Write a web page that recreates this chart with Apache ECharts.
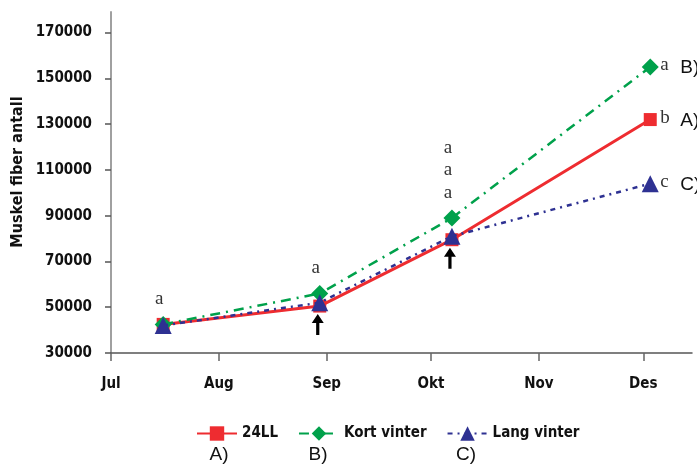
<!DOCTYPE html>
<html>
<head>
<meta charset="utf-8">
<script src="https://cdn.jsdelivr.net/npm/echarts@6/dist/echarts.min.js"></script>
<style>
  html, body { margin: 0; padding: 0; background: #ffffff; }
  #chart { width: 697px; height: 466px; }
</style>
</head>
<body>
<div id="chart"></div>
<script>
// Month tick labels (Norwegian) starting in July
const months = ['Jul', 'Aug', 'Sep', 'Okt', 'Nov', 'Des'];
// Sampling dates
const sampleDates = ['2003-07-16', '2003-08-30', '2003-10-07', '2003-12-03'];
// Treatment groups
const seriesNames = ['24LL', 'Kort vinter', 'Lang vinter'];
const groupTags = ['A)', 'B)', 'C)'];
// Muscle fibre counts per sampling date
const values24LL = [42500, 50500, 79500, 132000];
const valuesKort = [42500, 56000, 89000, 155000];
const valuesLang = [42000, 52000, 81000, 104000];
// Y axis tick values
const yTicks = [30000, 50000, 70000, 90000, 110000, 130000, 150000, 170000];
// Significance letters: above the first three samples, and per group at the last
const lettersAbove = [['a'], ['a'], ['a', 'a', 'a']];
const finalLetters = ['b', 'a', 'c'];
// Samples marked with an arrow
const arrowSamples = [1, 2];

const FONT = '"DejaVu Sans Condensed", "DejaVu Sans", sans-serif';
const LETTER_FONT = '"Liberation Serif", "DejaVu Serif", serif';
const colors = ['#ee2c30', '#00a14b', '#2e3192'];

// Dates are placed on a linear axis measured in days since 1 July
const DAY = 86400000;
const origin = Date.UTC(2003, 6, 1);
function toDay(s) {
  const p = s.split('-').map(Number);
  return (Date.UTC(p[0], p[1] - 1, p[2]) - origin) / DAY;
}
const monthDays = months.map((m, i) => (Date.UTC(2003, 6 + i, 1) - origin) / DAY);
const xMax = (Date.UTC(2003, 11, 15) - origin) / DAY;
const days = sampleDates.map(toDay);
const allValues = [values24LL, valuesKort, valuesLang];

const chart = echarts.init(document.getElementById('chart'), null, { renderer: 'canvas' });

const seriesStyles = [
  { symbol: 'rect', symbolSize: 13, lineStyle: { width: 3, type: 'solid' } },
  { symbol: 'diamond', symbolSize: 17, lineStyle: { width: 2.5, type: [10, 6, 2, 6] } },
  { symbol: 'triangle', symbolSize: 17, lineStyle: { width: 2.5, type: [5, 5, 2, 5] } }
];

const labelText = { fontFamily: FONT, fontSize: 15, fontWeight: 'bold', color: '#111' };

chart.setOption({
  animation: false,
  backgroundColor: '#ffffff',
  grid: { left: 111, right: 5, top: 12, bottom: 113 },
  legend: {
    left: 191,
    top: 421,
    itemWidth: 40,
    itemHeight: 18,
    itemGap: 20,
    data: seriesNames,
    textStyle: labelText
  },
  xAxis: {
    type: 'value',
    min: 0,
    max: xMax,
    splitLine: { show: false },
    axisLine: { onZero: false, lineStyle: { color: '#555', width: 1.5 } },
    axisTick: { show: true, length: 8, customValues: monthDays, lineStyle: { color: '#666', width: 1.5 } },
    axisLabel: Object.assign({
      customValues: monthDays,
      margin: 24,
      formatter: function (v) {
        const idx = monthDays.indexOf(v);
        return idx >= 0 ? months[idx] : '';
      }
    }, labelText)
  },
  yAxis: {
    type: 'value',
    min: 30000,
    max: 179000,
    splitLine: { show: false },
    axisLine: { show: true, lineStyle: { color: '#a0a0a0', width: 2 } },
    axisTick: { show: true, length: 6, customValues: yTicks, lineStyle: { color: '#555', width: 1.5 } },
    axisLabel: Object.assign({
      customValues: yTicks,
      margin: 19,
      formatter: function (v) { return String(v); }
    }, labelText)
  },
  series: seriesNames.map((name, s) => ({
    name: name,
    type: 'line',
    z: 2 + s,
    symbol: seriesStyles[s].symbol,
    symbolSize: seriesStyles[s].symbolSize,
    showAllSymbol: true,
    color: colors[s],
    itemStyle: { color: colors[s] },
    lineStyle: Object.assign({ color: colors[s] }, seriesStyles[s].lineStyle),
    data: days.map((d, i) => [d, allValues[s][i]])
  }))
});

// Annotations anchored through the chart's own coordinate system
function px(d, v) {
  return chart.convertToPixel({ xAxisIndex: 0, yAxisIndex: 0 }, [d, v]);
}
const graphics = [];

// Letters stacked above the first samples
lettersAbove.forEach((letters, i) => {
  const top = Math.max(values24LL[i], valuesKort[i], valuesLang[i]);
  const p = px(days[i], top);
  letters.forEach((txt, k) => {
    graphics.push({
      type: 'text', z: 10,
      style: {
        x: p[0] - 4, y: p[1] - 25 - k * 22.5, text: txt,
        font: '19px ' + LETTER_FONT, fill: '#333',
        textAlign: 'center', textVerticalAlign: 'middle'
      }
    });
  });
});

// Letters and group tags next to the last sample of each group
const last = days.length - 1;
seriesNames.forEach((name, s) => {
  const p = px(days[last], allValues[s][last]);
  graphics.push({
    type: 'text', z: 10,
    style: {
      x: p[0] + 10, y: p[1] - 2, text: finalLetters[s],
      font: '19px ' + LETTER_FONT, fill: '#333',
      textAlign: 'left', textVerticalAlign: 'middle'
    }
  });
  graphics.push({
    type: 'text', z: 10,
    style: {
      x: p[0] + 30, y: p[1] + 1, text: groupTags[s],
      font: '19px "Liberation Sans", Arial, sans-serif', fill: '#111',
      textAlign: 'left', textVerticalAlign: 'middle'
    }
  });
});

// Arrows under the marked samples
arrowSamples.forEach(i => {
  const p = px(days[i], values24LL[i]);
  const x = p[0] - 2, y = p[1] + 8;
  graphics.push({
    type: 'polygon', z: 10,
    shape: {
      points: [[x, y], [x + 6, y + 9], [x + 1.6, y + 9], [x + 1.6, y + 21],
               [x - 1.6, y + 21], [x - 1.6, y + 9], [x - 6, y + 9]]
    },
    style: { fill: '#000' }
  });
});

// Group tags under the legend entries
const legendTagX = [219, 318, 466];
groupTags.forEach((tag, s) => {
  graphics.push({
    type: 'text', z: 10,
    style: {
      x: legendTagX[s], y: 455, text: tag,
      font: '19px "Liberation Sans", Arial, sans-serif', fill: '#111',
      textAlign: 'center', textVerticalAlign: 'middle'
    }
  });
});

// Y axis title
graphics.push({
  type: 'text', z: 10,
  x: 18, y: 172, rotation: Math.PI / 2,
  style: {
    x: 0, y: 0, text: 'Muskel fiber antall',
    font: 'bold 16px ' + FONT, fill: '#111',
    textAlign: 'center', textVerticalAlign: 'middle'
  }
});

chart.setOption({ graphic: { elements: graphics } });
</script>
</body>
</html>
